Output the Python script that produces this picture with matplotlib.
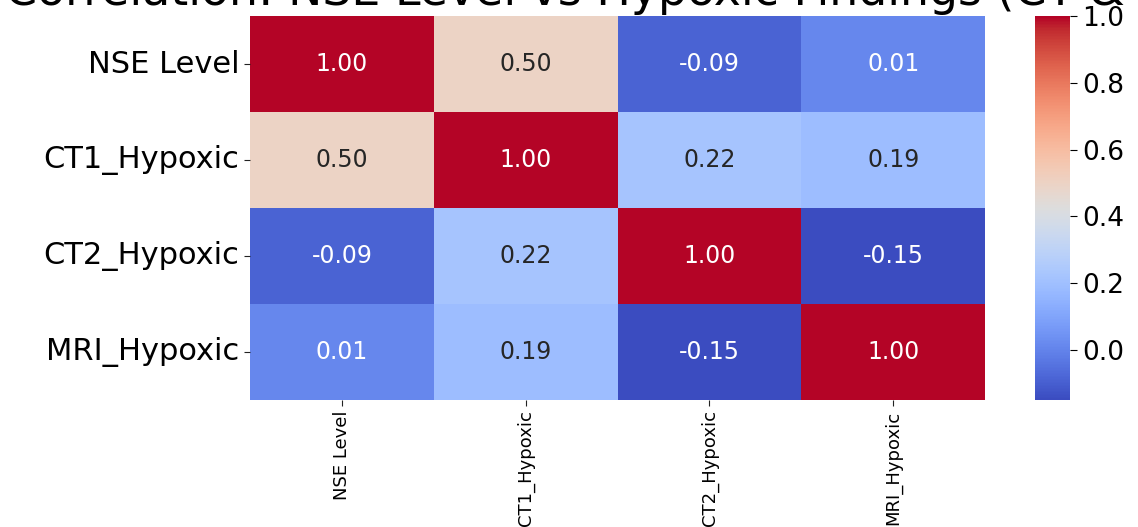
import numpy as np
import seaborn as sns
from matplotlib import pyplot as plt

variables = ["NSE Level", "CT1_Hypoxic", "CT2_Hypoxic", "MRI_Hypoxic"]
nse_row = [1.00, 0.50, -0.09, 0.01]
ct1_row = [0.50, 1.00, 0.22, 0.19]
ct2_row = [-0.09, 0.22, 1.00, -0.15]
mri_row = [0.01, 0.19, -0.15, 1.00]

title = "Correlation: NSE Level vs Hypoxic Findings (CT & MRI)"


def create_heatmap() -> None:
    corr = np.array([nse_row, ct1_row, ct2_row, mri_row])

    fig = plt.figure(figsize=(11.38, 5.27), dpi=100)
    ax = fig.add_axes([0.2197, 0.241, 0.6459, 0.7286])
    cax = fig.add_axes([0.9095, 0.241, 0.0308, 0.7286])

    sns.heatmap(
        corr,
        annot=True,
        fmt=".2f",
        cmap="coolwarm",
        ax=ax,
        cbar_ax=cax,
        xticklabels=variables,
        yticklabels=variables,
        annot_kws={"fontsize": 17},
    )

    ax.tick_params(axis="y", labelsize=22, rotation=0, length=4, color="#222222")
    ax.tick_params(axis="x", labelsize=13, rotation=90, length=4, color="#222222")
    cax.tick_params(labelsize=19, length=5)

    # title sits mostly above the canvas, as in the cropped original
    fig.text(0.548, 1 - 5 / 527, title, ha="center", va="baseline", fontsize=33)

    fig.savefig("out.png", dpi=100)


if __name__ == "__main__":
    create_heatmap()
